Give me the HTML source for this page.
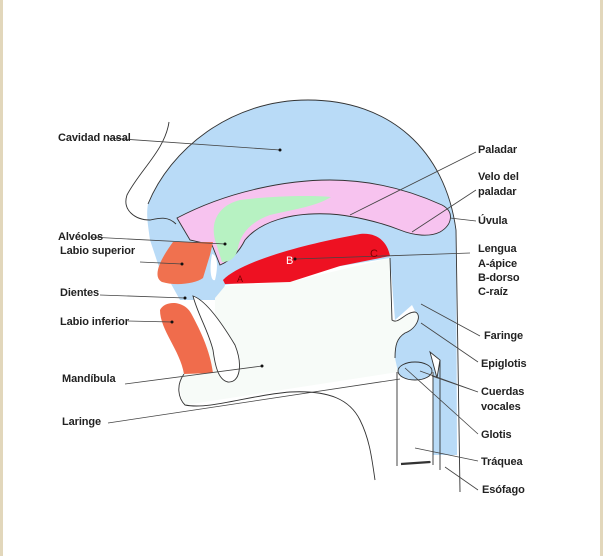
<!DOCTYPE html>
<html><head><meta charset="utf-8"><style>
html,body{margin:0;padding:0;background:#fff}
svg{display:block}
text{font-family:"Liberation Sans",Arial,sans-serif;font-size:11px;font-weight:bold;fill:#222;letter-spacing:-0.1px}
</style></head><body>
<svg width="603" height="556" viewBox="0 0 603 556" xmlns="http://www.w3.org/2000/svg">
<rect x="0" y="0" width="603" height="556" fill="#fff"/>
<rect x="1.5" y="-2" width="600" height="560" fill="none" stroke="#e2d7bb" stroke-width="3"/>
<g stroke="#333" stroke-width="0.9" fill="none">
<path d="M148,204 C170,150 230,100 308,100 C390,100 445,150 456,230 L457,455 L433,455 L433,372 L397,372 L395,365 L395,340 C398,330 410,325 417,315 L412,305 L395,320 L390,258 L225,285 L220,300 L180,300 L170,282 L160,270 L150,240 C148,225 146,215 148,204 Z" fill="#b9dbf7" stroke="none"/>
<path d="M148,204 C170,150 230,100 308,100 C390,100 445,150 456,230 L460,492"/>
<path d="M169,122 C165,150 140,170 127,195 C122,210 135,220 150,220 C160,218 168,216 176,224"/>
<path d="M215,298 L225,286 L290,282 L390,258 L392,320 C398,325 405,312 415,312 C422,314 418,328 405,333 C397,338 395,345 395,358 L398,372 L185,405 C178,395 182,385 180,375 L215,330 Z" fill="#f7fbf8" stroke="none"/>
<path d="M390,258 L392,320 C398,325 405,312 415,312 C422,314 418,328 405,333 C397,338 395,345 395,358"/>
<path d="M177,218 C230,190 290,180 330,180 C380,180 420,195 442,205 C455,212 452,225 440,232 C430,237 415,236 400,230 C380,222 350,215 330,214 C290,212 260,222 245,240 C240,250 232,260 220,265 L212,245 L190,240 Z" fill="#f7c3ef"/>
<path d="M215,240 C210,220 220,205 240,200 C270,196 310,195 331,197 C315,207 290,210 270,215 C250,222 240,235 238,248 C236,258 230,262 222,262 Z" fill="#b7f2c2" stroke="none"/>
<path d="M173,242 L213,242 L210,255 L203,278 C195,284 175,286 162,282 C154,278 156,265 173,242 Z" fill="#f0714f" stroke="none"/>
<path d="M212,254 C218,255 218,268 215,280 C211,282 209,270 212,254 Z" fill="#fff" stroke="none"/>
<path d="M223,280 C240,262 300,245 360,234 C380,232 388,245 390,256 L340,266 L290,282 L225,284 Z" fill="#ee1122" stroke="none"/>
<path d="M160,310 C165,300 185,300 192,315 C200,330 210,350 213,373 L184,374 C180,350 160,330 160,310 Z" fill="#f06c4c" stroke="none"/>
<path d="M193,296 C205,300 220,320 235,345 C243,365 240,383 228,382 C218,380 215,365 213,350 C208,330 198,315 193,296 Z" fill="#fff"/>
<path d="M184,374 C176,385 178,398 185,405 C210,410 250,395 290,392 C330,390 350,400 360,420 C370,440 372,460 375,480"/>
<path d="M397,372 L397,466 M433,372 L433,465 M440,360 L440,470 M401,464 L431,462" />
<path d="M401,464 L430,462" stroke-width="2.2"/>
<ellipse cx="415" cy="371" rx="17" ry="9" fill="#b9dbf7"/>
<path d="M430,352 L440,360 L437,378 Z" fill="#fff"/>
</g>
<g stroke="#444" stroke-width="0.8" fill="none">
<path d="M108,138 L280,150"/>
<path d="M476,152 L350,215"/>
<path d="M476,190 L412,232"/>
<path d="M476,221 L450,218"/>
<path d="M90,237 L225,244"/>
<path d="M140,262 L182,264"/>
<path d="M470,253 L295,259"/>
<path d="M100,295 L185,298"/>
<path d="M128,321 L172,322"/>
<path d="M480,336 L421,304"/>
<path d="M478,362 L421,323"/>
<path d="M478,392 L420,371 M478,392 L432,376"/>
<path d="M478,434 L405,368"/>
<path d="M478,461 L415,448"/>
<path d="M478,490 L445,467"/>
<path d="M125,384 L262,366"/>
<path d="M108,423 L400,379"/>
</g>
<g fill="#111">
<circle cx="280" cy="150" r="1.5"/><circle cx="225" cy="244" r="1.5"/><circle cx="182" cy="264" r="1.5"/>
<circle cx="295" cy="259" r="1.5"/><circle cx="185" cy="298" r="1.5"/><circle cx="172" cy="322" r="1.5"/>
<circle cx="262" cy="366" r="1.5"/>
</g>
<text x="286" y="264" style="font-size:11px;fill:#fff;font-weight:normal">B</text>
<text x="370" y="257" style="font-size:11px;fill:#7a0000;font-weight:normal">C</text>
<text x="237" y="282" style="font-size:9px;fill:#7a0000;font-weight:normal">A</text>
<text x="58" y="141">Cavidad nasal</text>
<text x="478" y="153">Paladar</text>
<text x="478" y="180">Velo del</text>
<text x="478" y="195">paladar</text>
<text x="478" y="224">Úvula</text>
<text x="58" y="240">Alvéolos</text>
<text x="60" y="254">Labio superior</text>
<text x="478" y="252">Lengua</text>
<text x="478" y="267">A-ápice</text>
<text x="478" y="281">B-dorso</text>
<text x="478" y="295">C-raíz</text>
<text x="60" y="296">Dientes</text>
<text x="60" y="325">Labio inferior</text>
<text x="484" y="339">Faringe</text>
<text x="481" y="367">Epiglotis</text>
<text x="481" y="395">Cuerdas</text>
<text x="481" y="410">vocales</text>
<text x="481" y="438">Glotis</text>
<text x="481" y="465">Tráquea</text>
<text x="482" y="493">Esófago</text>
<text x="62" y="382">Mandíbula</text>
<text x="62" y="425">Laringe</text>
</svg>
</body></html>
